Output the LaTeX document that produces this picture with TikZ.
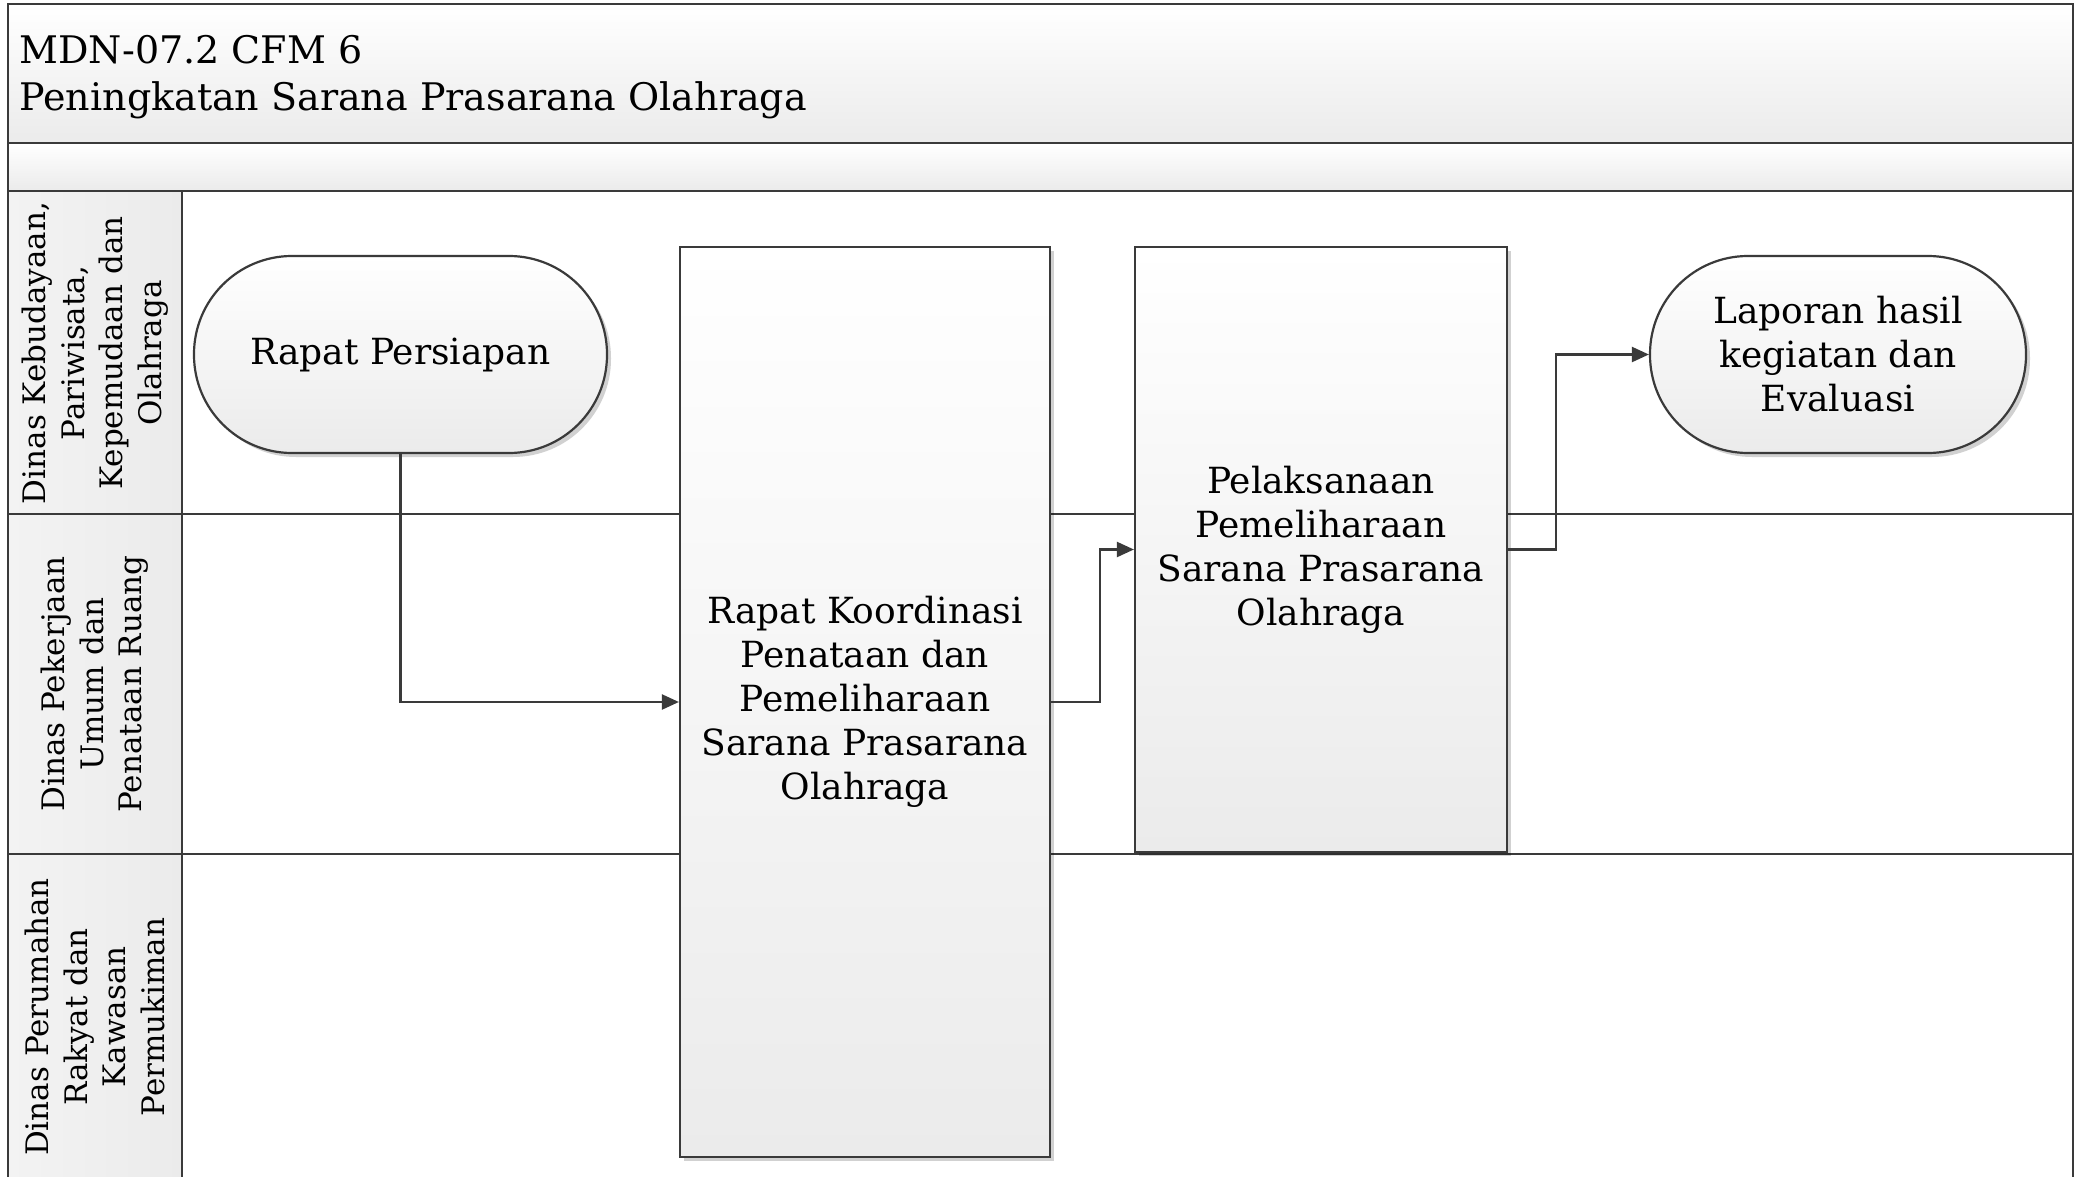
\documentclass[tikz,border=0pt]{standalone}
\usepackage{fontspec}
\setmainfont{DejaVu Serif}
\usetikzlibrary{arrows.meta,shadows}
\definecolor{ln}{HTML}{3A3A3A}
\definecolor{lowgray}{HTML}{EBEBEB}
\tikzset{
  x=1pt,y=-1pt,
  lane/.style={draw=ln,line width=2.2pt},
  boxbase/.style={draw=ln,line width=2.2pt,top color=white,bottom color=lowgray,
     drop shadow={shadow xshift=4pt,shadow yshift=-4pt,opacity=0.18,fill=black},
     align=center,font=\fontsize{36}{44}\selectfont,text=black},
  procbox/.style={boxbase,rectangle},
  termbox/.style={boxbase,rectangle,rounded corners=98pt},
  lanelabel/.style={rotate=90,align=center,font=\fontsize{31}{38.5}\selectfont,text=black},
  flow/.style={draw=ln,line width=2.2pt,-{Triangle[length=17pt,width=15pt]}},
}
\begin{document}
\begin{tikzpicture}
\useasboundingbox (0,0) rectangle (2082,1177);
\fill[white] (0,0) rectangle (2082,1177);
% header bars
\shade[top color=white,bottom color=lowgray] (8,4) rectangle (2073,143);
\shade[top color=white,bottom color=lowgray] (8,143) rectangle (2073,191);
% lane header column
\shade[left color=lowgray!60,right color=lowgray] (8,191) rectangle (182,1177);
% frame lines
\draw[lane] (8,1180) -- (8,4) -- (2073,4) -- (2073,1180);
\draw[lane] (8,143) -- (2073,143);
\draw[lane] (8,191) -- (2073,191);
\draw[lane] (182,191) -- (182,1180);
\draw[lane] (8,514) -- (2073,514);
\draw[lane] (8,854) -- (2073,854);
% title
\node[anchor=west,align=left,font=\fontsize{38}{47}\selectfont,text=black] (title) at (16,77)
  {MDN-07.2 CFM 6\\Peningkatan Sarana Prasarana Olahraga};
% lane labels
\node[lanelabel] (l1) at (95,353) {Dinas Kebudayaan,\\Pariwisata,\\Kepemudaan dan\\Olahraga};
\node[lanelabel] (l2) at (95,684) {Dinas Pekerjaan\\Umum dan\\Penataan Ruang};
\node[lanelabel] (l3) at (95,1017) {Dinas Perumahan\\Rakyat dan\\Kawasan\\Permukiman};
% nodes
\node[termbox,minimum width=413pt,minimum height=197pt] (rp) at (400.5,354.5) {Rapat Persiapan};
\node[procbox,minimum width=370pt,minimum height=910pt] (ko) at (865,702)
  {Rapat Koordinasi\\Penataan dan\\Pemeliharaan\\Sarana Prasarana\\Olahraga};
\node[procbox,minimum width=372pt,minimum height=605pt] (pe) at (1321,549.5)
  {Pelaksanaan\\Pemeliharaan\\Sarana Prasarana\\Olahraga};
\node[termbox,minimum width=376pt,minimum height=197pt] (la) at (1838,354.5)
  {Laporan hasil\\kegiatan dan\\Evaluasi};
% connectors
\draw[flow] (rp.south) |- (ko.west);
\draw[flow] (ko.east) -- ++(49,0) |- (pe.west);
\draw[flow] (pe.east) -- ++(48,0) |- (la.west);
\end{tikzpicture}
\end{document}
